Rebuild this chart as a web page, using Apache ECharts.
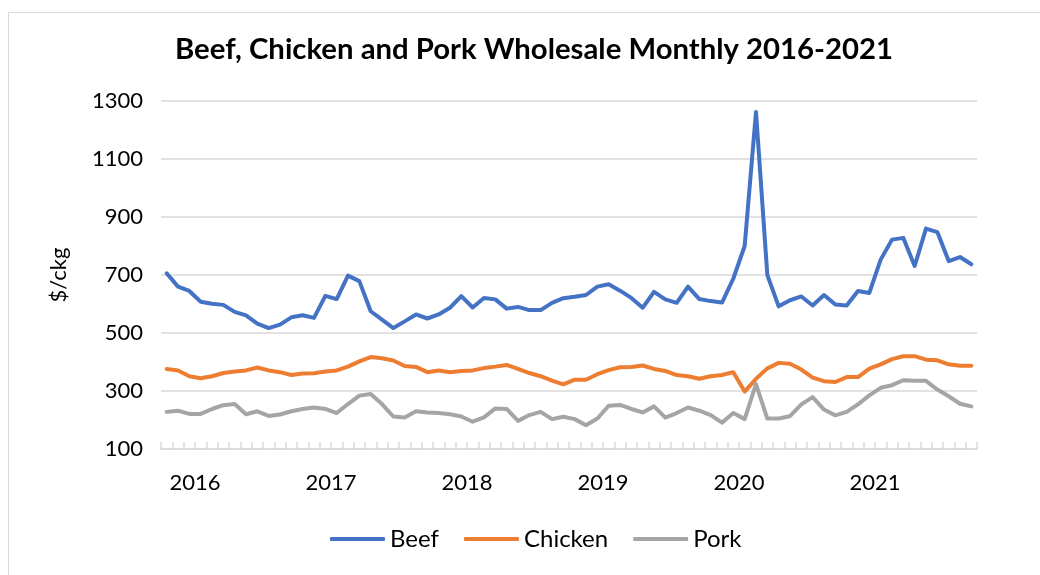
<!DOCTYPE html>
<html>
<head>
<meta charset="utf-8">
<script src="https://cdn.jsdelivr.net/npm/echarts@6/dist/echarts.min.js"></script>
<style>
html,body{margin:0;padding:0;background:#fff;}
#frame{position:absolute;left:8px;top:12px;width:1040px;height:600px;border-left:1px solid #d9d9d9;border-top:1px solid #d9d9d9;}
#chart{position:absolute;left:0;top:0;width:1040px;height:575px;}
</style>
</head>
<body>
<div id="frame"></div>
<div id="chart"></div>
<script>
// Months Oct 2015 .. Sep 2021
const months = [];
for (let y = 2015, m = 10, k = 0; k < 72; k++) {
  months.push(y + '-' + String(m).padStart(2, '0'));
  m++; if (m > 12) { m = 1; y++; }
}
const yearLabels = ['2016', '2017', '2018', '2019', '2020', '2021'];
const yearPositions = [2.5, 14.5, 26.5, 38.5, 50.5, 62.5];

const beef = [706,660,645,608,601,597,573,561,532,517,529,554,561,552,628,617,698,679,
  575,546,517,540,564,550,564,587,627,588,621,616,584,590,579,579,604,620,
  625,631,660,668,646,621,587,642,616,604,660,617,610,605,688,800,1262,700,
  592,613,626,595,631,598,595,645,638,753,822,828,731,860,848,748,762,737];
const chicken = [376,371,351,344,351,362,367,371,381,371,365,355,360,361,367,371,384,402,
  417,413,405,386,383,365,371,365,369,371,379,384,390,376,362,351,336,323,
  339,339,358,372,382,383,388,376,369,355,351,342,351,355,365,298,342,378,
  397,394,374,346,334,331,348,348,377,392,410,420,420,408,406,392,387,387];
const pork = [228,232,221,221,238,251,255,220,230,214,219,230,238,243,238,224,255,284,
  290,255,212,209,230,226,224,220,212,194,209,240,238,197,217,228,203,211,
  203,182,205,249,252,238,226,247,208,224,243,232,217,191,224,203,324,205,
  205,213,254,279,236,216,228,254,285,311,320,337,335,335,305,282,256,247];

const FONT = 'Lato, "Open Sans", sans-serif';
const chart = echarts.init(document.getElementById('chart'), null, {renderer: 'canvas'});
const mk = (name, data, color) => ({
  name, type: 'line', data, xAxisIndex: 0, yAxisIndex: 0,
  showSymbol: false, symbol: 'none',
  lineStyle: {color, width: 4, cap: 'round', join: 'round'},
  itemStyle: {color}
});
chart.setOption({
  animation: false,
  backgroundColor: 'transparent',
  title: {
    text: 'Beef, Chicken and Pork Wholesale Monthly 2016-2021',
    left: 170, top: 30,
    textStyle: {fontFamily: FONT, fontSize: 29.3, fontWeight: 'bold', color: '#000'}
  },
  grid: {left: 161, right: 63, top: 101, bottom: 126, containLabel: false},
  legend: {
    bottom: 19, left: 325, itemWidth: 55, itemHeight: 4, itemGap: 25,
    icon: 'roundRect',
    textStyle: {fontFamily: FONT, fontSize: 24, color: '#000'},
    data: ['Beef', 'Chicken', 'Pork']
  },
  xAxis: [{
    type: 'category', data: months, boundaryGap: true,
    axisLine: {lineStyle: {color: '#d9d9d9', width: 1.5}},
    axisTick: {show: true, inside: true, length: 7, interval: 0, lineStyle: {color: '#d9d9d9', width: 1.5}},
    axisLabel: {show: false},
    splitLine: {show: false}
  }, {
    type: 'value', min: -0.5, max: 71.5, position: 'bottom',
    axisLine: {show: false}, axisTick: {show: false}, splitLine: {show: false},
    axisLabel: {
      show: true, margin: 23, customValues: yearPositions,
      fontFamily: FONT, fontSize: 22, color: '#000',
      formatter: v => yearLabels[yearPositions.indexOf(v)] || ''
    }
  }],
  yAxis: {
    type: 'value', min: 100, max: 1300, interval: 200,
    name: '$/ckg', nameLocation: 'middle', nameGap: 91, nameRotate: 90,
    nameTextStyle: {fontFamily: FONT, fontSize: 22, color: '#000'},
    axisLine: {show: false}, axisTick: {show: false},
    axisLabel: {fontFamily: FONT, fontSize: 22, color: '#000', margin: 18, formatter: v => String(v)},
    splitLine: {lineStyle: {color: '#d9d9d9', width: 1.5}}
  },
  series: [
    mk('Beef', beef, '#4472C4'),
    mk('Chicken', chicken, '#ED7D31'),
    mk('Pork', pork, '#A5A5A5')
  ]
});
</script>
</body>
</html>
